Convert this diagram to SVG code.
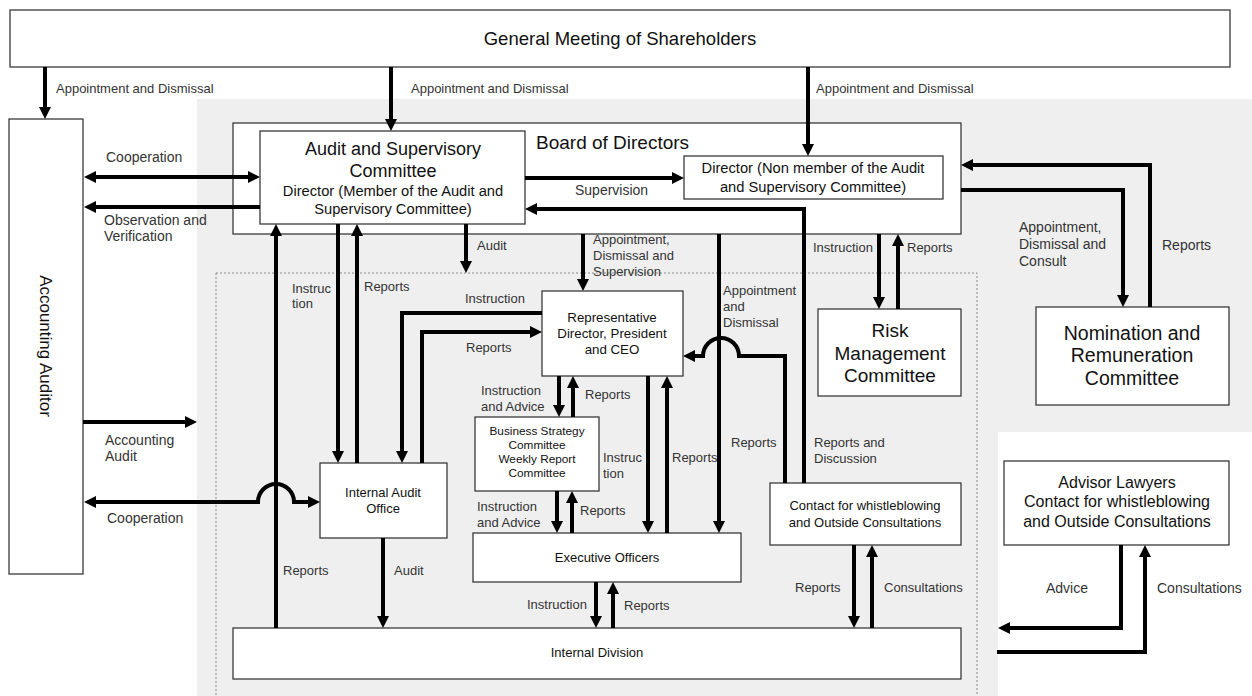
<svg xmlns="http://www.w3.org/2000/svg" width="1252" height="696" viewBox="0 0 1252 696">
<defs>
<marker id="ah" viewBox="0 0 12 12" markerWidth="12" markerHeight="12" markerUnits="userSpaceOnUse" refX="8" refY="6" orient="auto-start-reverse">
<path d="M0,0 L12,6 L0,12 z" fill="#000"/>
</marker>
</defs>
<style>
.bg{fill:#efefef;stroke:none}
.dot{fill:none;stroke:#8a8a8a;stroke-width:1;stroke-dasharray:2,2}
.box{fill:#fff;stroke:#3a3a3a;stroke-width:1.3}
.t{font-family:"Liberation Sans",Arial,sans-serif;fill:#111;text-anchor:middle}
.lb{font-family:"Liberation Sans",Arial,sans-serif;fill:#333;font-size:13px}
.lo{font-family:"Liberation Sans",Arial,sans-serif;fill:#333;font-size:14px}
.c{fill:none;stroke:#000;stroke-width:4}
.a{marker-end:url(#ah)}
.b{marker-start:url(#ah);marker-end:url(#ah)}
</style>
<rect width="1252" height="696" fill="#fff"/>
<path class="bg" d="M197,99 H1252 V432 H998 V696 H197 Z"/>
<rect class="dot" x="216" y="273" width="761" height="430"/>

<g id="gm">
<rect class="box" x="10" y="10" width="1220" height="57"/>
<text class="t" x="620" y="45" font-size="18.5">General Meeting of Shareholders</text>
</g>
<g id="auditor">
<rect class="box" x="9" y="119" width="74" height="455"/>
<text class="t" x="0" y="0" font-size="17" transform="translate(40,346) rotate(90)">Accounting Auditor</text>
</g>
<g id="board">
<rect class="box" x="233" y="123" width="728" height="111"/>
<text x="536" y="149" font-size="19" font-family="Liberation Sans, Arial, sans-serif" fill="#111">Board of Directors</text>
</g>
<g id="asc">
<rect class="box" x="260" y="131" width="265" height="93"/>
<text class="t" x="393" y="155" font-size="18">Audit and Supervisory</text>
<text class="t" x="393" y="177" font-size="18">Committee</text>
<text class="t" x="393" y="196" font-size="14.7" fill="#333">Director (Member of the Audit and</text>
<text class="t" x="393" y="214" font-size="14.7" fill="#333">Supervisory Committee)</text>
</g>
<g id="dirnm">
<rect class="box" x="684" y="156" width="259" height="43"/>
<text class="t" x="813" y="173" font-size="14.7" fill="#333">Director (Non member of the Audit</text>
<text class="t" x="813" y="192" font-size="14.7" fill="#333">and Supervisory Committee)</text>
</g>
<g id="rep">
<rect class="box" x="542" y="291" width="141" height="85"/>
<text class="t" x="612" y="322" font-size="13.3">Representative</text>
<text class="t" x="612" y="338" font-size="13.3">Director, President</text>
<text class="t" x="612" y="354" font-size="13.3">and CEO</text>
</g>
<g id="risk">
<rect class="box" x="818" y="309" width="143" height="87"/>
<text class="t" x="890" y="337" font-size="19">Risk</text>
<text class="t" x="890" y="360" font-size="19">Management</text>
<text class="t" x="890" y="382" font-size="19">Committee</text>
</g>
<g id="nom">
<rect class="box" x="1036" y="307" width="193" height="98"/>
<text class="t" x="1132" y="340" font-size="19.5">Nomination and</text>
<text class="t" x="1132" y="362" font-size="19.5">Remuneration</text>
<text class="t" x="1132" y="385" font-size="19.5">Committee</text>
</g>
<g id="bsc">
<rect class="box" x="475" y="417" width="124" height="74"/>
<text class="t" x="537" y="435" font-size="11.8">Business Strategy</text>
<text class="t" x="537" y="449" font-size="11.8">Committee</text>
<text class="t" x="537" y="463" font-size="11.8">Weekly Report</text>
<text class="t" x="537" y="477" font-size="11.8">Committee</text>
</g>
<g id="iao">
<rect class="box" x="320" y="463" width="127" height="75"/>
<text class="t" x="383" y="497" font-size="13">Internal Audit</text>
<text class="t" x="383" y="513" font-size="13">Office</text>
</g>
<g id="exec">
<rect class="box" x="473" y="533" width="268" height="49"/>
<text class="t" x="607" y="562" font-size="13">Executive Officers</text>
</g>
<g id="contact">
<rect class="box" x="770" y="483" width="191" height="62"/>
<text class="t" x="865" y="510" font-size="13">Contact for whistleblowing</text>
<text class="t" x="865" y="527" font-size="13">and Outside Consultations</text>
</g>
<g id="advisor">
<rect class="box" x="1004" y="461" width="225" height="84"/>
<text class="t" x="1117" y="488" font-size="16">Advisor Lawyers</text>
<text class="t" x="1117" y="507" font-size="16">Contact for whistleblowing</text>
<text class="t" x="1117" y="527" font-size="16">and Outside Consultations</text>
</g>
<g id="division">
<rect class="box" x="233" y="628" width="728" height="51"/>
<text class="t" x="597" y="657" font-size="13">Internal Division</text>
</g>

<g id="connectors">
<path class="c a" d="M45,67 V115"/>
<path class="c a" d="M391,67 V127"/>
<path class="c a" d="M808,67 V152"/>
<path class="c b" d="M88,177 H256"/>
<path class="c a" d="M260,207 H88"/>
<path class="c a" d="M525,178 H680"/>
<path class="c a" d="M804,483 V209 H529"/>
<path class="c a" d="M466,224 V269"/>
<path class="c a" d="M583,234 V287"/>
<path class="c a" d="M719,234 V529"/>
<path class="c a" d="M785,483 V356 H739 A18,18 0 0 0 703,356 H687"/>
<path class="c a" d="M879,234 V305"/>
<path class="c a" d="M898,309 V238"/>
<path class="c a" d="M1150,307 V165 H965"/>
<path class="c a" d="M961,190 H1123 V303"/>
<path class="c a" d="M338,224 V459"/>
<path class="c a" d="M357,463 V228"/>
<path class="c a" d="M276,628 V228"/>
<path class="c a" d="M542,313 H402 V459"/>
<path class="c a" d="M422,463 V332 H538"/>
<path class="c b" d="M88,502 H258 A18,18 0 0 1 294,502 H316"/>
<path class="c a" d="M83,422 H193"/>
<path class="c a" d="M383,538 V624"/>
<path class="c a" d="M559,376 V413"/>
<path class="c a" d="M573,417 V380"/>
<path class="c a" d="M557,491 V529"/>
<path class="c a" d="M572,533 V495"/>
<path class="c a" d="M648,376 V529"/>
<path class="c a" d="M667,533 V380"/>
<path class="c a" d="M596,582 V624"/>
<path class="c a" d="M613,628 V586"/>
<path class="c a" d="M854,545 V624"/>
<path class="c a" d="M872,628 V549"/>
<path class="c a" d="M1121,545 V628 H1002"/>
<path class="c a" d="M997,652 H1145 V549"/>
</g>

<g id="labels">
<text class="lb" x="56" y="93">Appointment and Dismissal</text>
<text class="lb" x="411" y="93">Appointment and Dismissal</text>
<text class="lb" x="816" y="93">Appointment and Dismissal</text>
<text class="lo" x="106" y="162">Cooperation</text>
<text class="lo" x="104" y="225">Observation and</text>
<text class="lo" x="104" y="241">Verification</text>
<text class="lo" x="575" y="195">Supervision</text>
<text class="lb" x="477" y="250">Audit</text>
<text class="lb" x="593" y="244">Appointment,</text>
<text class="lb" x="593" y="260">Dismissal and</text>
<text class="lb" x="593" y="276">Supervision</text>
<text class="lb" x="723" y="295">Appointment</text>
<text class="lb" x="723" y="311">and</text>
<text class="lb" x="723" y="327">Dismissal</text>
<text class="lb" x="813" y="252">Instruction</text>
<text class="lb" x="907" y="252">Reports</text>
<text class="lo" x="1019" y="232">Appointment,</text>
<text class="lo" x="1019" y="249">Dismissal and</text>
<text class="lo" x="1019" y="266">Consult</text>
<text class="lo" x="1162" y="250">Reports</text>
<text class="lb" x="292" y="293">Instruc</text>
<text class="lb" x="292" y="308">tion</text>
<text class="lb" x="364" y="291">Reports</text>
<text class="lb" x="465" y="303">Instruction</text>
<text class="lb" x="466" y="352">Reports</text>
<text class="lb" x="481" y="395">Instruction</text>
<text class="lb" x="481" y="411">and Advice</text>
<text class="lb" x="585" y="399">Reports</text>
<text class="lb" x="603" y="462">Instruc</text>
<text class="lb" x="603" y="478">tion</text>
<text class="lb" x="672" y="462">Reports</text>
<text class="lb" x="731" y="447">Reports</text>
<text class="lb" x="814" y="447">Reports and</text>
<text class="lb" x="814" y="463">Discussion</text>
<text class="lo" x="105" y="445">Accounting</text>
<text class="lo" x="105" y="461">Audit</text>
<text class="lo" x="107" y="523">Cooperation</text>
<text class="lb" x="477" y="511">Instruction</text>
<text class="lb" x="477" y="527">and Advice</text>
<text class="lb" x="580" y="515">Reports</text>
<text class="lb" x="283" y="575">Reports</text>
<text class="lb" x="394" y="575">Audit</text>
<text class="lb" x="527" y="609">Instruction</text>
<text class="lb" x="624" y="610">Reports</text>
<text class="lb" x="795" y="592">Reports</text>
<text class="lb" x="884" y="592">Consultations</text>
<text class="lo" x="1046" y="593">Advice</text>
<text class="lo" x="1157" y="593">Consultations</text>
</g>
</svg>
